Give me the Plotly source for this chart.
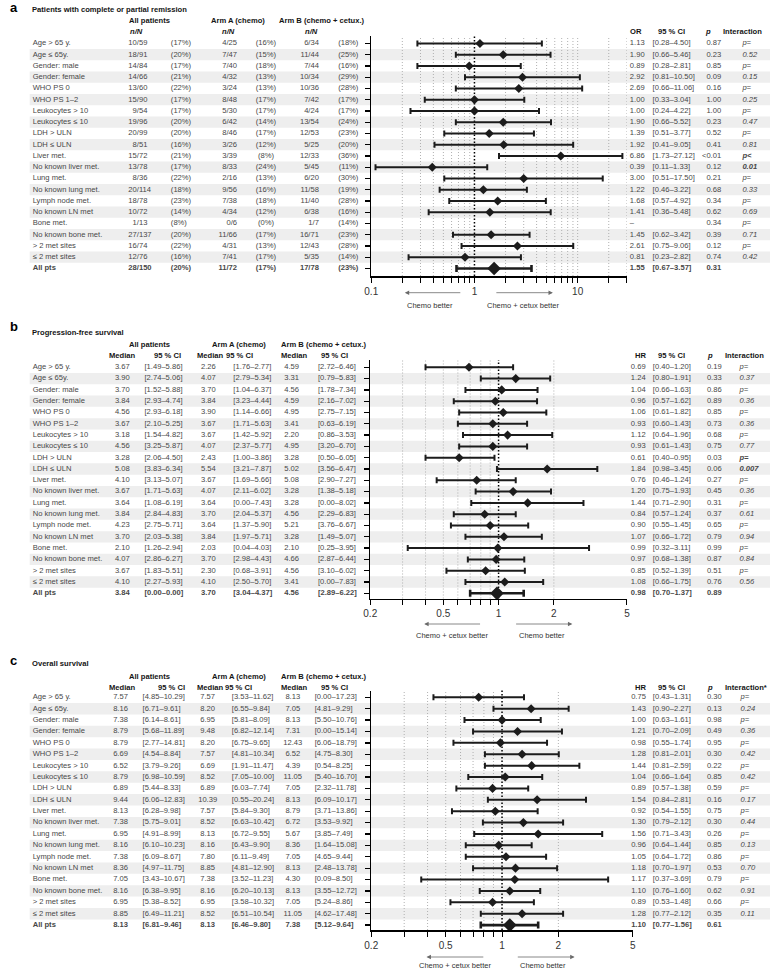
import math
import plotly.graph_objects as go

W, H = 776, 970

# ---------------- data ----------------
labels = ["Age > 65 y.", "Age ≤ 65y.", "Gender: male", "Gender: female", "WHO PS 0",
          "WHO PS 1–2", "Leukocytes > 10", "Leukocytes ≤ 10", "LDH > ULN", "LDH ≤ ULN",
          "Liver met.", "No known liver met.", "Lung met.", "No known lung met.",
          "Lymph node met.", "No known LN met", "Bone met.", "No known bone met.",
          "> 2 met sites", "≤ 2 met sites", "All pts"]

# Panel a: responders
a_all_n = [10, 18, 14, 14, 13, 15, 9, 19, 20, 8, 15, 13, 8, 20, 18, 10, 1, 27, 16, 12, 28]
a_all_N = [59, 91, 84, 66, 60, 90, 54, 96, 99, 51, 72, 78, 36, 114, 78, 72, 13, 137, 74, 76, 150]
a_all_pct = [17, 20, 17, 21, 22, 17, 17, 20, 20, 16, 21, 17, 22, 18, 23, 14, 8, 20, 22, 16, 20]
a_A_n = [4, 7, 7, 4, 3, 8, 5, 6, 8, 3, 3, 8, 2, 9, 7, 4, 0, 11, 4, 7, 11]
a_A_N = [25, 47, 40, 32, 24, 48, 30, 42, 46, 26, 39, 33, 16, 56, 38, 34, 6, 66, 31, 41, 72]
a_A_pct = [16, 15, 18, 13, 13, 17, 17, 14, 17, 12, 8, 24, 13, 16, 18, 12, 0, 17, 13, 17, 17]
a_B_n = [6, 11, 7, 10, 10, 7, 4, 13, 12, 5, 12, 5, 6, 11, 11, 6, 1, 16, 12, 5, 17]
a_B_N = [34, 44, 44, 34, 36, 42, 24, 54, 53, 25, 33, 45, 20, 58, 40, 38, 7, 71, 43, 35, 78]
a_B_pct = [18, 25, 16, 29, 28, 17, 17, 24, 23, 20, 36, 11, 30, 19, 28, 16, 14, 23, 28, 14, 23]
a_or = [1.13, 1.90, 0.89, 2.92, 2.69, 1.00, 1.00, 1.90, 1.39, 1.92, 6.86, 0.39, 3.00, 1.22, 1.68, 1.41, None, 1.45, 2.61, 0.81, 1.55]
a_lo = [0.28, 0.66, 0.28, 0.81, 0.66, 0.33, 0.24, 0.66, 0.51, 0.41, 1.73, 0.11, 0.51, 0.46, 0.57, 0.36, None, 0.62, 0.75, 0.23, 0.67]
a_hi = [4.50, 5.46, 2.81, 10.50, 11.06, 3.04, 4.22, 5.52, 3.77, 9.05, 27.12, 1.33, 17.50, 3.22, 4.92, 5.48, None, 3.42, 9.06, 2.82, 3.57]
a_p = ["0.87", "0.23", "0.85", "0.09", "0.16", "1.00", "1.00", "0.23", "0.52", "0.41", "<0.01", "0.12",
       "0.21", "0.68", "0.34", "0.62", "0.34", "0.39", "0.12", "0.74", "0.31"]
a_int = ["p=", "0.52", "p=", "0.15", "p=", "0.25", "p=", "0.47", "p=", "0.81", "p<", "0.01",
         "p=", "0.33", "p=", "0.69", "p=", "0.71", "p=", "0.42", ""]
a_int_bold = [10, 11]

# Panel b: progression-free survival
b_all_med = [3.67, 3.90, 3.70, 3.84, 4.56, 3.67, 3.18, 4.56, 3.28, 5.08, 4.10, 3.67, 3.64, 3.84, 4.23, 3.70, 2.10, 4.07, 3.67, 4.10, 3.84]
b_all_lo = [1.49, 2.74, 1.52, 2.93, 2.93, 2.10, 1.54, 3.25, 2.06, 3.83, 3.13, 1.71, 1.08, 2.84, 2.75, 2.03, 1.26, 2.86, 1.83, 2.27, 0.00]
b_all_hi = [5.86, 5.06, 5.88, 4.74, 6.18, 5.25, 4.82, 5.87, 4.50, 6.34, 5.07, 5.63, 6.19, 4.83, 5.71, 5.38, 2.94, 6.27, 5.51, 5.93, 0.00]
b_A_med = [2.26, 4.07, 3.70, 3.84, 3.90, 3.67, 3.67, 4.07, 2.43, 5.54, 3.67, 4.07, 3.64, 3.70, 3.64, 3.84, 2.03, 3.70, 2.30, 4.10, 3.70]
b_A_lo = [1.76, 2.79, 1.04, 3.23, 1.14, 1.71, 1.42, 2.37, 1.00, 3.21, 1.69, 2.11, 0.00, 2.04, 1.37, 1.97, 0.04, 2.98, 0.68, 2.50, 3.04]
b_A_hi = [2.77, 5.34, 6.37, 4.44, 6.66, 5.63, 5.92, 5.77, 3.86, 7.87, 5.66, 6.02, 7.43, 5.37, 5.90, 5.71, 4.03, 4.43, 3.91, 5.70, 4.37]
b_B_med = [4.59, 3.31, 4.56, 4.59, 4.95, 3.41, 2.20, 4.95, 3.28, 5.02, 5.08, 3.28, 3.28, 4.56, 5.21, 3.28, 2.10, 4.66, 4.56, 3.41, 4.56]
b_B_lo = [2.72, 0.79, 1.78, 2.16, 2.75, 0.63, 0.86, 3.20, 0.50, 3.56, 2.90, 1.38, 0.00, 2.29, 3.76, 1.49, 0.25, 2.87, 3.10, 0.00, 2.89]
b_B_hi = [6.46, 5.83, 7.34, 7.02, 7.15, 6.19, 3.53, 6.70, 6.05, 6.47, 7.27, 5.18, 8.02, 6.83, 6.67, 5.07, 3.95, 6.44, 6.02, 7.83, 6.22]
b_hr = [0.69, 1.24, 1.04, 0.96, 1.06, 0.93, 1.12, 0.93, 0.61, 1.84, 0.76, 1.20, 1.44, 0.84, 0.90, 1.07, 0.99, 0.97, 0.85, 1.08, 0.98]
b_lo = [0.40, 0.80, 0.66, 0.57, 0.61, 0.60, 0.64, 0.61, 0.40, 0.98, 0.46, 0.75, 0.71, 0.57, 0.55, 0.66, 0.32, 0.68, 0.52, 0.66, 0.70]
b_hi = [1.20, 1.91, 1.63, 1.62, 1.82, 1.43, 1.96, 1.43, 0.95, 3.45, 1.24, 1.93, 2.90, 1.24, 1.45, 1.72, 3.11, 1.38, 1.39, 1.75, 1.37]
b_p = ["0.19", "0.33", "0.86", "0.89", "0.85", "0.73", "0.68", "0.75", "0.03", "0.06", "0.27", "0.45",
       "0.31", "0.37", "0.65", "0.79", "0.99", "0.87", "0.51", "0.76", "0.89"]
b_int = ["p=", "0.37", "p=", "0.36", "p=", "0.36", "p=", "0.77", "p=", "0.007", "p=", "0.36",
         "p=", "0.61", "p=", "0.94", "p=", "0.84", "p=", "0.56", ""]
b_int_bold = [8, 9]

# Panel c: overall survival
c_all_med = [7.57, 8.16, 7.38, 8.79, 8.79, 6.69, 6.52, 8.79, 6.89, 9.44, 8.13, 7.38, 6.95, 8.16, 7.38, 8.36, 7.05, 8.16, 6.95, 8.85, 8.13]
c_all_lo = [4.85, 6.71, 6.14, 5.68, 2.77, 4.54, 3.79, 6.98, 5.44, 6.06, 6.28, 5.75, 4.91, 6.10, 6.09, 4.97, 3.43, 6.38, 5.38, 6.49, 6.81]
c_all_hi = [10.29, 9.61, 8.61, 11.89, 14.81, 8.84, 9.26, 10.59, 8.33, 12.83, 9.98, 9.01, 8.99, 10.23, 8.67, 11.75, 10.67, 9.95, 8.52, 11.21, 9.46]
c_A_med = [7.57, 8.20, 6.95, 9.48, 8.20, 7.57, 6.69, 8.52, 6.89, 10.39, 7.57, 8.52, 8.13, 8.16, 7.80, 8.85, 7.38, 8.16, 6.95, 8.52, 8.13]
c_A_lo = [3.53, 6.55, 5.81, 6.82, 6.75, 4.81, 1.91, 7.05, 6.03, 0.55, 5.84, 6.63, 6.72, 6.43, 6.11, 4.81, 3.52, 6.20, 3.58, 6.51, 6.46]
c_A_hi = [11.62, 9.84, 8.09, 12.14, 9.65, 10.34, 11.47, 10.00, 7.74, 20.24, 9.30, 10.42, 9.55, 9.90, 9.49, 12.90, 11.23, 10.13, 10.32, 10.54, 9.80]
c_B_med = [8.13, 7.05, 8.13, 7.31, 12.43, 6.52, 4.39, 11.05, 7.05, 8.13, 8.79, 6.72, 5.67, 8.36, 7.05, 8.13, 4.30, 8.13, 7.05, 11.05, 7.38]
c_B_lo = [0.00, 4.81, 5.50, 0.00, 6.06, 4.75, 0.54, 5.40, 2.32, 6.09, 3.71, 3.53, 3.85, 1.64, 4.65, 2.48, 0.09, 3.55, 5.24, 4.62, 5.12]
c_B_hi = [17.23, 9.29, 10.76, 15.14, 18.79, 8.30, 8.25, 16.70, 11.78, 10.17, 13.86, 9.92, 7.49, 15.08, 9.44, 13.78, 8.50, 12.72, 8.86, 17.48, 9.64]
c_hr = [0.75, 1.43, 1.00, 1.21, 0.98, 1.28, 1.44, 1.04, 0.89, 1.54, 0.92, 1.30, 1.56, 0.96, 1.05, 1.18, 1.17, 1.10, 0.89, 1.28, 1.10]
c_lo = [0.43, 0.90, 0.63, 0.70, 0.55, 0.81, 0.81, 0.66, 0.57, 0.84, 0.54, 0.79, 0.71, 0.64, 0.64, 0.70, 0.37, 0.76, 0.53, 0.77, 0.77]
c_hi = [1.31, 2.27, 1.61, 2.09, 1.74, 2.01, 2.59, 1.64, 1.38, 2.81, 1.55, 2.12, 3.43, 1.44, 1.72, 1.97, 3.69, 1.60, 1.48, 2.12, 1.56]
c_p = ["0.30", "0.13", "0.98", "0.49", "0.95", "0.30", "0.22", "0.85", "0.59", "0.16", "0.75", "0.30",
       "0.26", "0.85", "0.86", "0.53", "0.79", "0.62", "0.66", "0.35", "0.61"]
c_int = ["p=", "0.24", "p=", "0.36", "p=", "0.42", "p=", "0.42", "p=", "0.17", "p=", "0.44",
         "p=", "0.13", "p=", "0.70", "p=", "0.91", "p=", "0.11", ""]
c_int_bold = []

# axis ticks
a_ticks = [0.1, 0.2, 0.3, 0.4, 0.5, 0.6, 0.7, 0.8, 0.9, 1, 2, 3, 4, 5, 6, 7, 8, 9, 10, 20, 30]
a_ticklabels = {0.1: "0.1", 1: "1", 10: "10"}
a_grid = [0.2, 0.3, 0.4, 0.5, 0.6, 0.7, 0.8, 0.9, 2, 3, 4, 5, 6, 7, 8, 9, 10, 20, 30]
bc_ticks = [0.2, 0.3, 0.4, 0.5, 0.6, 0.7, 0.8, 0.9, 1, 2, 5]
bc_ticklabels = {0.2: "0.2", 0.5: "0.5", 1: "1", 2: "2", 5: "5"}
bc_grid = [0.3, 0.4, 0.5, 0.6, 0.7, 0.8, 0.9, 2]

# ---------------- styling ----------------
FONT = "Liberation Sans, Arial, Helvetica, sans-serif"
TXT = "#474747"
DARK = "#151515"
MARK = "#1c1c1c"
FS = 7.6
BAND = "#eeeeee"
GRID = "#a8a8a8"

fig = go.Figure()
shapes, annotations = [], []
layout = {}
ROWS = list(range(len(labels)))
LAST = len(labels) - 1


def X(px):
    return px / W


def Y(py):
    return 1 - py / H


def esc(s):
    return s.replace("<", "&lt;")


def ann(text, x, y, anchor="center", size=FS, color=DARK):
    annotations.append(dict(text=text, x=X(x), y=Y(y), xref="paper", yref="paper",
                            xanchor=anchor, yanchor="middle", showarrow=False, borderpad=0,
                            font=dict(family=FONT, size=size, color=color)))


def arrow(head, tail, y):
    annotations.append(dict(text="", x=X(head), y=Y(y), xref="paper", yref="paper",
                            showarrow=True, ax=tail - head, ay=0, axref="pixel", ayref="pixel",
                            arrowhead=2, arrowsize=1.1, arrowwidth=0.8, arrowcolor="#6a6a6a",
                            standoff=0, startstandoff=0))


def b_last(strs, extra_bold=()):
    out = []
    for i, s in enumerate(strs):
        out.append(f"<b>{s}</b>" if (i == LAST or i in extra_bold) else s)
    return out


def text_col(xa, ya, xpx, strs, align):
    pos = {"left": "middle right", "right": "middle left", "center": "middle center"}[align]
    fig.add_trace(go.Scatter(x=[xpx] * len(strs), y=ROWS, mode="text", text=strs,
                             textposition=pos, textfont=dict(family=FONT, size=FS, color=TXT),
                             marker=dict(size=0), cliponaxis=False, hoverinfo="skip",
                             showlegend=False, xaxis=xa, yaxis=ya))


def forest(xa, ya, est, lo, hi):
    rows = [i for i in ROWS[:-1] if est[i] is not None]
    fig.add_trace(go.Scatter(
        x=[est[i] for i in rows], y=rows, mode="markers",
        marker=dict(symbol="diamond", size=7, color=MARK),
        error_x=dict(type="data", symmetric=False,
                     array=[hi[i] - est[i] for i in rows],
                     arrayminus=[est[i] - lo[i] for i in rows],
                     color=MARK, thickness=2, width=3),
        cliponaxis=False, hoverinfo="skip", showlegend=False, xaxis=xa, yaxis=ya))
    i = LAST
    fig.add_trace(go.Scatter(
        x=[est[i]], y=[i], mode="markers",
        marker=dict(symbol="diamond", size=10.5, color=MARK),
        error_x=dict(type="data", symmetric=False, array=[hi[i] - est[i]],
                     arrayminus=[est[i] - lo[i]], color=MARK, thickness=2.6, width=3.5),
        cliponaxis=False, hoverinfo="skip", showlegend=False, xaxis=xa, yaxis=ya))


def setup(k, g, xr, ticks, ticklabels, grid):
    xs = "" if k == 1 else str(k)
    tx = str(k + 3)
    yr = [(g["bottom"] - g["row0"]) / g["pitch"], (g["top"] - g["row0"]) / g["pitch"]]
    layout["xaxis" + xs] = dict(
        type="log", range=[math.log10(xr[0]), math.log10(xr[1])],
        domain=[X(g["xl"]), X(g["xr"])], anchor="y" + xs,
        showline=True, linecolor="black", linewidth=1.5,
        ticks="outside", ticklen=5, tickwidth=1, tickcolor="black",
        tickmode="array", tickvals=ticks,
        ticktext=[ticklabels.get(t, "") for t in ticks],
        tickfont=dict(family=FONT, size=10, color="#333333"),
        showgrid=False, zeroline=False, fixedrange=True)
    layout["yaxis" + xs] = dict(
        domain=[Y(g["bottom"]), Y(g["top"])], range=yr, anchor="x" + xs,
        showline=True, linecolor="black", linewidth=1.5,
        ticks="outside", ticklen=5, tickwidth=1.3, tickcolor="black",
        tickmode="array", tickvals=ROWS, showticklabels=False,
        showgrid=False, zeroline=False, fixedrange=True)
    layout["xaxis" + tx] = dict(domain=[0, 1], range=[0, W], anchor="y" + xs,
                                visible=False, fixedrange=True)
    # alternating bands
    for i in ROWS[:-1]:
        if i % 2 == 1:
            shapes.append(dict(type="rect", xref="paper", yref="y" + xs,
                               x0=X(23), x1=X(773), y0=i - 0.5, y1=i + 0.5,
                               fillcolor=BAND, line=dict(width=0), layer="below"))
    for v in grid:
        shapes.append(dict(type="line", xref="x" + xs, yref="y" + xs + " domain",
                           x0=v, x1=v, y0=0, y1=1,
                           line=dict(color=GRID, width=0.9, dash="1px,2px"), layer="below"))
    shapes.append(dict(type="line", xref="x" + xs, yref="y" + xs + " domain",
                       x0=1, x1=1, y0=0, y1=1,
                       line=dict(color="black", width=1.5, dash="1.5px,2px"), layer="below"))
    return "x" + xs if xs else "x", "y" + xs if xs else "y", "x" + tx


def fmt(v):
    return f"{v:.2f}"


def ci(lo, hi):
    return [f"[{l:.2f}–{h:.2f}]" for l, h in zip(lo, hi)]


def inter(strs, bold):
    out = []
    for i, s in enumerate(strs):
        t = f"<i>{esc(s)}</i>" if s else ""
        if i in bold and s:
            t = f"<b>{t}</b>"
        out.append(t)
    return out


geo = {
    "a": dict(top=36, bottom=276, row0=43.5, pitch=11.25, xl=369, xr=628),
    "b": dict(top=360, bottom=598.5, row0=367.3, pitch=11.3, xl=368, xr=628),
    "c": dict(top=690.5, bottom=930, row0=697.3, pitch=11.39, xl=369, xr=634),
}

# ---------------- panel a ----------------
xa, ya, ta = setup(1, geo["a"], (0.1, 30), a_ticks, a_ticklabels, a_grid)
text_col(ta, ya, 26, b_last(labels), "left")
text_col(ta, ya, 131.5, b_last([str(n) for n in a_all_n]), "right")
text_col(ta, ya, 131.5, b_last([f"/{N}" for N in a_all_N]), "left")
text_col(ta, ya, 166, b_last([f"({p}%)" for p in a_all_pct]), "left")
text_col(ta, ya, 233, b_last([f"{n}/{N}" for n, N in zip(a_A_n, a_A_N)]), "right")
text_col(ta, ya, 262.3, b_last([f"({p}%)" for p in a_A_pct]), "center")
text_col(ta, ya, 316, b_last([f"{n}/{N}" for n, N in zip(a_B_n, a_B_N)]), "right")
text_col(ta, ya, 356, b_last([f"({p}%)" for p in a_B_pct]), "right")
text_col(ta, ya, 631, b_last([fmt(v) if v is not None else "–" for v in a_or]), "left")
text_col(ta, ya, 654, b_last([f"[{l:.2f}–{h:.2f}]" if l is not None else "" for l, h in zip(a_lo, a_hi)]), "left")
text_col(ta, ya, 723.5, b_last([esc(p) for p in a_p]), "right")
text_col(ta, ya, 745, inter(a_int, a_int_bold), "left")
forest(xa, ya, a_or, a_lo, a_hi)

ann("<b>a</b>", 2, 8, "left", size=13, color="black")
ann("<b>Patients with complete or partial remission</b>", 24, 9.5, "left")
ann("<b>All patients</b>", 122.5, 20, "left")
ann("<b>Arm A (chemo)</b>", 206, 20, "left")
ann("<b>Arm B (chemo + cetux.)</b>", 275, 20, "left")
for cx in (131.3, 224.7, 308.8):
    ann("<b><i>n/N</i></b>", cx, 32)
ann("<b>OR</b>", 637.7, 32)
ann("<b>95 % CI</b>", 673, 32)
ann("<b><i>p</i></b>", 710, 32)
ann("<b>Interaction</b>", 724.5, 32, "left")
arrow(403, 460, 292.7)
arrow(553, 495, 292.7)
ann("Chemo better", 429, 305.3, size=7.5, color="#333333")
ann("Chemo + cetux better", 523, 305.3, size=7.5, color="#333333")

# ---------------- panel b ----------------
xb, yb, tb = setup(2, geo["b"], (0.2, 5), bc_ticks, bc_ticklabels, bc_grid)
text_col(tb, yb, 26, b_last(labels), "left")
text_col(tb, yb, 116.8, b_last([fmt(v) for v in b_all_med]), "center")
text_col(tb, yb, 139.3, b_last(ci(b_all_lo, b_all_hi)), "left")
text_col(tb, yb, 204, b_last([fmt(v) for v in b_A_med]), "center")
text_col(tb, yb, 229.3, b_last(ci(b_A_lo, b_A_hi)), "left")
text_col(tb, yb, 288.3, b_last([fmt(v) for v in b_B_med]), "center")
text_col(tb, yb, 315, b_last(ci(b_B_lo, b_B_hi)), "left")
text_col(tb, yb, 632, b_last([fmt(v) for v in b_hr]), "left")
text_col(tb, yb, 654.3, b_last(ci(b_lo, b_hi)), "left")
text_col(tb, yb, 724, b_last(b_p), "right")
text_col(tb, yb, 742, inter(b_int, b_int_bold), "left")
forest(xb, yb, b_hr, b_lo, b_hi)

ann("<b>b</b>", 2, 326, "left", size=13, color="black")
ann("<b>Progression-free survival</b>", 24, 332.3, "left")
ann("<b>All patients</b>", 122.5, 344, "left")
ann("<b>Arm A (chemo)</b>", 206.5, 344, "left")
ann("<b>Arm B (chemo + cetux.)</b>", 277, 344, "left")
for txt, cx in (("Median", 116.7), ("95 % CI", 163), ("Median", 206), ("95 % CI", 235.5),
                ("Median", 290.8), ("95 % CI", 331.7), ("HR", 641.7), ("95 % CI", 673.3)):
    ann(f"<b>{txt}</b>", cx, 355.7)
ann("<b><i>p</i></b>", 712, 355.7)
ann("<b>Interaction</b>", 726, 355.7, "left")
arrow(422.7, 480, 624)
arrow(572.7, 515, 624)
ann("Chemo + cetux better", 450.7, 635.7, size=7.5, color="#333333")
ann("Chemo better", 541.7, 635.7, size=7.5, color="#333333")

# ---------------- panel c ----------------
xc, yc, tc = setup(3, geo["c"], (0.2, 5), bc_ticks, bc_ticklabels, bc_grid)
text_col(tc, yc, 26, b_last(labels), "left")
text_col(tc, yc, 115, b_last([fmt(v) for v in c_all_med]), "center")
text_col(tc, yc, 137.3, b_last(ci(c_all_lo, c_all_hi)), "left")
text_col(tc, yc, 203.3, b_last([fmt(v) for v in c_A_med]), "center")
text_col(tc, yc, 227.7, b_last(ci(c_A_lo, c_A_hi)), "left")
text_col(tc, yc, 289.5, b_last([fmt(v) for v in c_B_med]), "center")
text_col(tc, yc, 311.7, b_last(ci(c_B_lo, c_B_hi)), "left")
text_col(tc, yc, 632.3, b_last([fmt(v) for v in c_hr]), "left")
text_col(tc, yc, 654.3, b_last(ci(c_lo, c_hi)), "left")
text_col(tc, yc, 724, b_last(c_p), "right")
text_col(tc, yc, 743, inter(c_int, c_int_bold), "left")
forest(xc, yc, c_hr, c_lo, c_hi)

ann("<b>c</b>", 2, 660, "left", size=13, color="black")
ann("<b>Overall survival</b>", 24, 663.3, "left")
ann("<b>All patients</b>", 123, 676.7, "left")
ann("<b>Arm A (chemo)</b>", 206.5, 676.7, "left")
ann("<b>Arm B (chemo + cetux.)</b>", 277, 676.7, "left")
for txt, cx in (("Median", 116.7), ("95 % CI", 167), ("Median", 206), ("95 % CI", 234.7),
                ("Median", 290.8), ("95 % CI", 332), ("HR", 641.7), ("95 % CI", 673)):
    ann(f"<b>{txt}</b>", cx, 687.3)
ann("<b><i>p</i></b>", 712, 687.3)
ann("<b>Interaction*</b>", 726, 687.3, "left")
arrow(425, 483.3, 957)
arrow(575, 516.7, 957)
ann("Chemo + cetux better", 454, 965.5, size=7.5, color="#333333")
ann("Chemo better", 542.7, 965.5, size=7.5, color="#333333")

fig.update_layout(
    width=W, height=H, autosize=False,
    margin=dict(l=0, r=0, t=0, b=0),
    paper_bgcolor="white", plot_bgcolor="rgba(0,0,0,0)",
    font=dict(family=FONT, size=FS, color=TXT),
    showlegend=False, shapes=shapes, annotations=annotations,
    **layout)

fig.write_html("out.html", config={"displayModeBar": False, "staticPlot": True},
               post_script="document.body.style.margin='0px';")
